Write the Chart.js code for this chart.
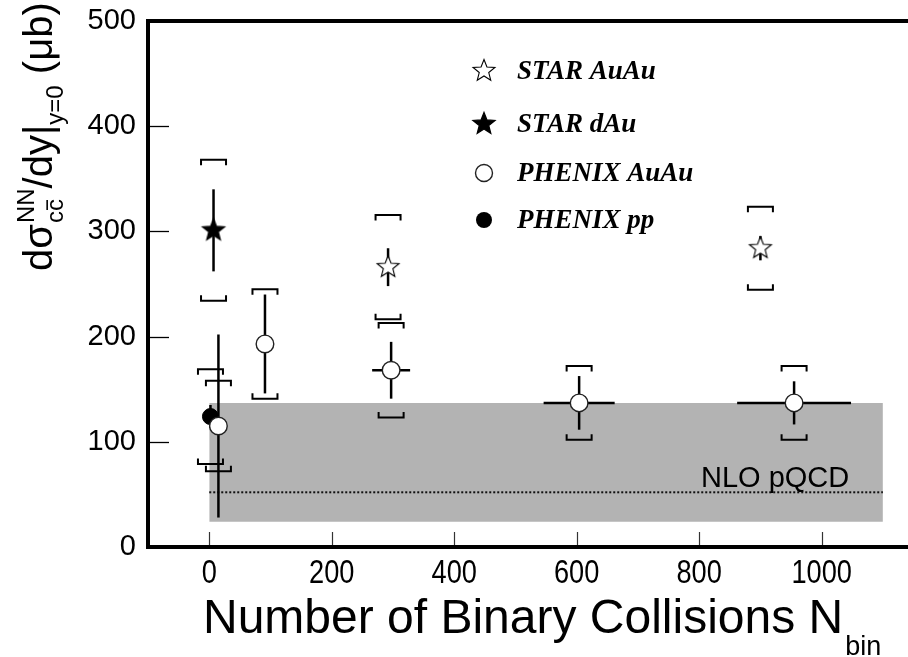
<!DOCTYPE html>
<html><head><meta charset="utf-8">
<script src="https://cdn.jsdelivr.net/npm/chart.js@4/dist/chart.umd.min.js"></script>
<style>html,body{margin:0;padding:0;background:#fff;overflow:hidden}#wrap{width:908px;height:657px;position:relative}</style>
</head><body><div id="wrap"><canvas id="c" width="908" height="657"></canvas></div>
<script>
// ---------------- data ----------------
const X_TICKS = [0, 200, 400, 600, 800, 1000];
const Y_TICKS = [0, 100, 200, 300, 400, 500];

const STAR_AUAU_X    = [292, 900];
const STAR_AUAU_Y    = [266, 284];
const STAR_AUAU_STAT = [18, 11.5];
const STAR_AUAU_SYS  = [49.5, 39.5];

const STAR_DAU_X    = [7];
const STAR_DAU_Y    = [301];
const STAR_DAU_STAT = [39];
const STAR_DAU_SYS  = [67];

const PHENIX_AUAU_X    = [15, 91, 297, 604, 955];
const PHENIX_AUAU_Y    = [115, 193, 168, 137, 137];
const PHENIX_AUAU_STAT = [87, 47, 27, 25.5, 20.5];
const PHENIX_AUAU_XERR = [0, 0, 31, 58, 93];
const PHENIX_AUAU_SYS  = [43, 52, 45, 35, 35];

const PHENIX_PP_X    = [2];
const PHENIX_PP_Y    = [124];
const PHENIX_PP_STAT = [11];
const PHENIX_PP_SYS  = [45];

const NLO_X       = [0, 1100];
const NLO_CENTRAL = [52, 52];
const NLO_LOW     = [24, 24];
const NLO_HIGH    = [137, 137];

const LEGEND_LABELS = ['STAR AuAu', 'STAR dAu', 'PHENIX AuAu', 'PHENIX pp'];
const X_TITLE = 'Number of Binary Collisions N';
const X_TITLE_SUB = 'bin';
const NLO_LABEL = 'NLO pQCD';

// ---------------- helpers ----------------
const pts = (xs, ys) => xs.map((x, i) => ({x: x, y: ys[i]}));
const SANS = "'Liberation Sans', Arial, Helvetica, sans-serif";
const SERIF = "'Liberation Serif', 'Times New Roman', serif";

function starImg(filled) {
  const R = 11.5, r = 5.0, S = 28;
  const c = document.createElement('canvas');
  c.width = S; c.height = S;
  const g = c.getContext('2d');
  g.beginPath();
  for (let k = 0; k < 10; k++) {
    const a = -Math.PI / 2 + k * Math.PI / 5;
    const rr = (k % 2) ? r : R;
    g.lineTo(S / 2 + rr * Math.cos(a), S / 2 + rr * Math.sin(a));
  }
  g.closePath();
  g.fillStyle = filled ? '#000' : '#fff';
  g.fill();
  g.lineWidth = filled ? 1.3 : 1.1; g.strokeStyle = '#000'; g.lineJoin = 'miter';
  g.stroke();
  return c;
}
const OPEN_STAR = starImg(false);
const FILLED_STAR = starImg(true);

const SERIES = [
  {x: STAR_AUAU_X, y: STAR_AUAU_Y, stat: STAR_AUAU_STAT, sys: STAR_AUAU_SYS},
  {x: STAR_DAU_X, y: STAR_DAU_Y, stat: STAR_DAU_STAT, sys: STAR_DAU_SYS},
  {x: PHENIX_PP_X, y: PHENIX_PP_Y, stat: PHENIX_PP_STAT, sys: PHENIX_PP_SYS},
  {x: PHENIX_AUAU_X, y: PHENIX_AUAU_Y, stat: PHENIX_AUAU_STAT, sys: PHENIX_AUAU_SYS, xerr: PHENIX_AUAU_XERR}
];

function seg(ctx, x1, y1, x2, y2) { ctx.beginPath(); ctx.moveTo(x1, y1); ctx.lineTo(x2, y2); ctx.stroke(); }
function poly(ctx, p) { ctx.beginPath(); ctx.moveTo(p[0][0], p[0][1]); for (let i = 1; i < p.length; i++) ctx.lineTo(p[i][0], p[i][1]); ctx.stroke(); }

// error bars + systematic brackets, drawn right after the NLO band/line
const errPlugin = {
  id: 'errs',
  afterDatasetDraw(chart, args) {
    if (chart.data.datasets[args.index].tag !== 'nlo') return;
    const xs = chart.scales.x, ys = chart.scales.y, ctx = chart.ctx;
    ctx.save();
    ctx.strokeStyle = '#000'; ctx.lineCap = 'butt'; ctx.lineJoin = 'miter';
    for (const s of SERIES) {
      for (let i = 0; i < s.x.length; i++) {
        const px = xs.getPixelForValue(s.x[i]), py = ys.getPixelForValue(s.y[i]);
        ctx.lineWidth = 2.5;
        seg(ctx, px, ys.getPixelForValue(s.y[i] + s.stat[i]), px, ys.getPixelForValue(s.y[i] - s.stat[i]));
        if (s.xerr && s.xerr[i]) {
          seg(ctx, xs.getPixelForValue(s.x[i] - s.xerr[i]), py, xs.getPixelForValue(s.x[i] + s.xerr[i]), py);
        }
        ctx.lineWidth = 2;
        const hw = 12.5, tail = 5.5;
        const top = ys.getPixelForValue(s.y[i] + s.sys[i]);
        const bot = ys.getPixelForValue(s.y[i] - s.sys[i]);
        poly(ctx, [[px - hw, top + tail], [px - hw, top], [px + hw, top], [px + hw, top + tail]]);
        poly(ctx, [[px - hw, bot - tail], [px - hw, bot], [px + hw, bot], [px + hw, bot - tail]]);
      }
    }
    ctx.restore();
  }
};

// frame top line, inward ticks, x tick labels, titles, legend, NLO label
const decoPlugin = {
  id: 'deco',
  afterDraw(chart) {
    const ctx = chart.ctx, a = chart.chartArea, xs = chart.scales.x, ys = chart.scales.y;
    ctx.save();
    // top frame line
    ctx.strokeStyle = '#000'; ctx.lineWidth = 4;
    seg(ctx, a.left - 2, a.top, chart.width, a.top);
    // y ticks (inward)
    ctx.lineWidth = 1.3;
    for (const t of ys.ticks) { const py = Math.round(ys.getPixelForValue(t.value)) + 0.5; seg(ctx, a.left, py, a.left + 21, py); }
    // x ticks (inward)
    ctx.strokeStyle = '#333'; ctx.lineWidth = 1.2;
    for (const t of xs.ticks) { const px = Math.round(xs.getPixelForValue(t.value)) + 0.5; seg(ctx, px, a.bottom - 2, px, a.bottom - 15); }

    // x tick labels (condensed Helvetica look)
    ctx.fillStyle = '#000';
    ctx.font = '34px ' + SANS; ctx.textAlign = 'center'; ctx.textBaseline = 'alphabetic';
    for (const t of xs.ticks) {
      const px = xs.getPixelForValue(t.value);
      ctx.save(); ctx.translate(px, 583); ctx.scale(0.8, 1);
      ctx.fillText(String(t.value), 0, 0);
      ctx.restore();
    }

    // NLO label
    ctx.font = '29px ' + SANS; ctx.textAlign = 'left'; ctx.textBaseline = 'alphabetic';
    ctx.fillText(NLO_LABEL, 701, 487);

    // x title
    ctx.font = '48px ' + SANS;
    ctx.fillText(X_TITLE, 203, 633);
    const wT = ctx.measureText(X_TITLE).width;
    ctx.font = '27px ' + SANS;
    ctx.fillText(X_TITLE_SUB, 203 + wT + 2, 655);

    // y title (rotated)
    ctx.save();
    ctx.translate(52, 271); ctx.rotate(-Math.PI / 2);
    const F = 40, S = 24;
    let x = 0;
    ctx.font = F + 'px ' + SANS; ctx.fillText('dσ', x, 0); x += ctx.measureText('dσ').width + 1;
    ctx.font = S + 'px ' + SANS;
    ctx.fillText('NN', x, -18);
    const wNN = ctx.measureText('NN').width;
    ctx.fillText('cc', x, 11);
    const wc = ctx.measureText('c').width;
    ctx.lineWidth = 1.6; ctx.strokeStyle = '#000';
    seg(ctx, x + wc + 1, 11 - S * 0.66, x + 2 * wc - 1, 11 - S * 0.66);
    x += Math.max(wNN, 2 * wc);
    ctx.font = F + 'px ' + SANS; ctx.fillText('/dy|', x, 0); x += ctx.measureText('/dy|').width;
    ctx.font = S + 'px ' + SANS; ctx.fillText('y=0', x, 11); x += ctx.measureText('y=0').width;
    ctx.font = F + 'px ' + SANS; ctx.fillText(' (μb)', x, 0);
    ctx.restore();

    // legend
    const LX = 484, TX = 517, ROWS = [71, 124, 173, 220];
    ctx.drawImage(OPEN_STAR, LX - OPEN_STAR.width / 2, ROWS[0] - OPEN_STAR.height / 2);
    ctx.drawImage(FILLED_STAR, LX - FILLED_STAR.width / 2, ROWS[1] - FILLED_STAR.height / 2);
    ctx.beginPath(); ctx.arc(LX, ROWS[2], 8.5, 0, Math.PI * 2); ctx.fillStyle = '#fff'; ctx.fill();
    ctx.lineWidth = 1.4; ctx.strokeStyle = '#222'; ctx.stroke();
    ctx.beginPath(); ctx.arc(LX, ROWS[3], 8, 0, Math.PI * 2); ctx.fillStyle = '#000'; ctx.fill();
    ctx.fillStyle = '#000';
    ctx.font = 'italic bold 27px ' + SERIF; ctx.textBaseline = 'middle';
    LEGEND_LABELS.forEach((t, i) => ctx.fillText(t, TX, ROWS[i] + 1));
    ctx.restore();
  }
};

new Chart(document.getElementById('c'), {
  type: 'scatter',
  data: {
    datasets: [
      {type: 'line', tag: 'bandLow', data: pts(NLO_X, NLO_LOW), borderColor: 'rgba(0,0,0,0)', borderWidth: 0,
       pointRadius: 0, fill: false, order: 12},
      {type: 'line', tag: 'bandHigh', data: pts(NLO_X, NLO_HIGH), borderColor: 'rgba(0,0,0,0)', borderWidth: 0,
       pointRadius: 0, fill: '-1', backgroundColor: '#b3b3b3', order: 11},
      {type: 'line', tag: 'nlo', data: pts(NLO_X, NLO_CENTRAL), borderColor: '#111', borderWidth: 2,
       borderDash: [2, 2], pointRadius: 0, fill: false, order: 10},
      {label: 'PHENIX pp', data: pts(PHENIX_PP_X, PHENIX_PP_Y), pointStyle: 'circle', pointRadius: 8,
       backgroundColor: '#000', borderColor: '#000', borderWidth: 1, order: 4},
      {label: 'PHENIX AuAu', data: pts(PHENIX_AUAU_X, PHENIX_AUAU_Y), pointStyle: 'circle', pointRadius: 8.8,
       backgroundColor: '#fff', borderColor: '#222', borderWidth: 1.4, order: 3},
      {label: 'STAR dAu', data: pts(STAR_DAU_X, STAR_DAU_Y), pointStyle: FILLED_STAR, pointRadius: 11, order: 2},
      {label: 'STAR AuAu', data: pts(STAR_AUAU_X, STAR_AUAU_Y), pointStyle: OPEN_STAR, pointRadius: 11, order: 1}
    ]
  },
  options: {
    responsive: false, animation: false, devicePixelRatio: 1, events: [],
    layout: {autoPadding: false, padding: {top: 21, left: 0, right: 0, bottom: 0}},
    plugins: {legend: {display: false}, tooltip: {enabled: false}, title: {display: false}},
    scales: {
      x: {
        type: 'linear', position: 'bottom', min: -100, max: 1141,
        afterBuildTicks: s => { s.ticks = X_TICKS.map(v => ({value: v})); },
        afterFit: s => { s.height = 110; s.paddingLeft = 0; s.paddingRight = 0; },
        grid: {display: false, drawTicks: false},
        border: {display: true, color: '#000', width: 4},
        ticks: {display: false}
      },
      y: {
        type: 'linear', position: 'left', min: 0, max: 500,
        afterBuildTicks: s => { s.ticks = Y_TICKS.map(v => ({value: v})); },
        afterFit: s => { s.width = 148; s.paddingTop = 0; s.paddingBottom = 0; },
        grid: {display: false, drawTicks: false},
        border: {display: true, color: '#000', width: 4},
        ticks: {color: '#000', padding: 12, autoSkip: false, font: {family: SANS, size: 29}}
      }
    }
  },
  plugins: [errPlugin, decoPlugin]
});
</script>
</body></html>
